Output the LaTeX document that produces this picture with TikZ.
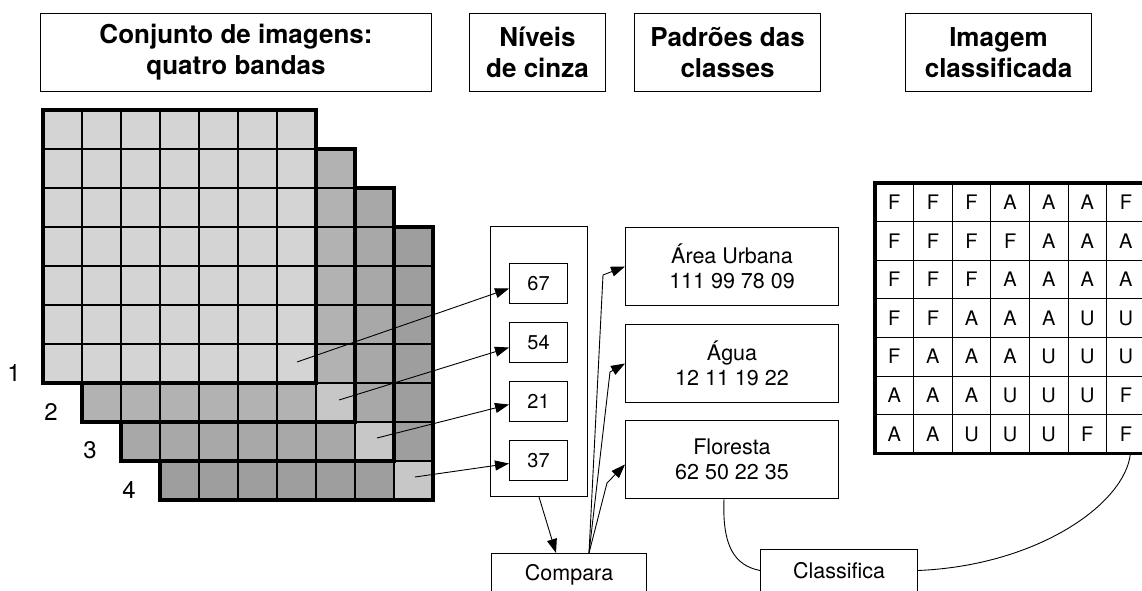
\documentclass[tikz,border=0pt]{standalone}
\usepackage{fontspec}
\setmainfont{TeX Gyre Heros}
\usetikzlibrary{positioning,arrows.meta,calc}
\tikzset{
  cabec/.style={rectangle, draw, line width=1pt, align=center, inner sep=0pt,
    minimum height=78pt, font=\fontsize{26}{31}\selectfont\bfseries},
  caixa/.style={rectangle, draw, line width=1pt, align=center, inner sep=0pt,
    font=\fontsize{21.5}{25}\selectfont},
  valor/.style={rectangle, draw, line width=1pt, inner sep=0pt,
    minimum width=58pt, minimum height=40pt, font=\fontsize{20}{22}\selectfont},
  rotulo/.style={font=\fontsize{24}{26}\selectfont, inner sep=0pt},
  letra/.style={font=\fontsize{20}{22}\selectfont, inner sep=0pt},
  seta/.style={-{Triangle[length=14pt,width=10pt]}, line width=0.9pt},
  liga/.style={line width=0.9pt},
}
\begin{document}
\begin{tikzpicture}[x=1pt, y=-1pt]
  \clip (0,0) rectangle (1142,591);
  % cabecalhos
  \node[cabec, minimum width=391pt, anchor=north west] (hconj) at (40,13) {Conjunto de imagens:\\quatro bandas};
  \node[cabec, minimum width=136pt, right=37pt of hconj] (hniv) {Níveis\\de cinza};
  \node[cabec, minimum width=186pt, right=28pt of hniv] (hpad) {Padrões das\\classes};
  \node[cabec, minimum width=186pt, right=84pt of hpad] (himg) {Imagem\\classificada};

  % as quatro bandas
  \foreach \b/\cor/\lw in {4/black!38/1.6, 3/black!34/1.6, 2/black!30/1.6, 1/black!17/1.1} {
    \pgfmathsetmacro{\o}{(\b-1)*39}
    \begin{scope}[shift={(43+\o,110+\o)}]
      \fill[\cor] (0,0) rectangle (273,273);
      \ifnum\b>1 \fill[black!22] (234,234) rectangle (273,273); \fi
      \foreach \i in {1,...,6} {
        \draw[line width=\lw pt] (\i*39,0) -- (\i*39,273);
        \draw[line width=\lw pt] (0,\i*39) -- (273,\i*39);
      }
      \draw[line width=3.2pt] (0,0) rectangle (273,273);
    \end{scope}
  }
  \node[rotulo] (n1) at (14,373) {1};
  \node[rotulo] (n2) at (51,412) {2};
  \node[rotulo] (n3) at (90,450) {3};
  \node[rotulo] (n4) at (129,490) {4};
  \coordinate (p1) at (297,362);
  \coordinate (p2) at (339,400);
  \coordinate (p3) at (377,438);
  \coordinate (p4) at (415,477);

  % niveis de cinza
  \node[caixa, minimum width=97pt, minimum height=270pt, anchor=north west] (niveis) at (490,226) {};
  \node[valor, anchor=north west] (v67) at (509,263) {67};
  \node[valor, below=18pt of v67] (v54) {54};
  \node[valor, below=18pt of v54] (v21) {21};
  \node[valor, below=18pt of v21] (v37) {37};
  \draw[seta] (p1) -- ([yshift=-5pt]v67.west);
  \draw[seta] (p2) -- ([yshift=-5pt]v54.west);
  \draw[seta] (p3) -- ([yshift=-3pt]v21.west);
  \draw[seta] (p4) -- ([yshift=-3pt]v37.west);

  % padroes das classes
  \node[caixa, minimum width=213pt, minimum height=78pt, anchor=north west] (area) at (625,227) {Área Urbana\\111 99 78 09};
  \node[caixa, minimum width=213pt, minimum height=78pt, below=18pt of area] (agua) {Água\\12 11 19 22};
  \node[caixa, minimum width=213pt, minimum height=78pt, below=17pt of agua] (floresta) {Floresta\\62 50 22 35};

  % operacoes
  \node[caixa, minimum width=155pt, minimum height=42pt, anchor=north west] (compara) at (491,553) {Compara};
  \node[caixa, minimum width=157pt, minimum height=42pt, anchor=north west] (classifica) at (760,549) {Classifica};
  \draw[seta] (niveis.south) -- ([xshift=-13pt]compara.north);
  \coordinate (c0) at ([xshift=20pt]compara.north);
  \draw[seta] (c0) -- (603,275) -- (area.west);
  \draw[seta] (c0) -- (610,372) -- (agua.west);
  \draw[seta] (c0) -- (607,483) -- ([yshift=-5pt]floresta.west);

  % imagem classificada
  \node[inner sep=0pt, minimum width=270pt, minimum height=270pt, anchor=north west] (grade) at (875,183) {};
  \begin{scope}[shift={(875,183)}]
    \foreach \i in {1,...,6} {
      \draw[line width=1pt] (\i*38.6,0) -- (\i*38.6,270);
      \draw[line width=1pt] (0,\i*38.6) -- (270,\i*38.6);
    }
  \end{scope}
  \draw[line width=3.5pt] (grade.north west) rectangle (grade.south east);
  \foreach \linha [count=\r] in {{F,F,F,A,A,A,F},{F,F,F,F,A,A,A},{F,F,F,A,A,A,A},{F,F,A,A,A,U,U},{F,A,A,A,U,U,U},{A,A,A,U,U,U,F},{A,A,U,U,U,F,F}} {
    \foreach \l [count=\k] in \linha {
      \node[letra] (g\r\k) at (875+\k*38.6-19.3, 183+\r*38.6-19.3) {\l};
    }
  }
  \coordinate (gfim) at ([xshift=-15pt]grade.south east);
  \draw[liga] ([xshift=-8pt]floresta.south) .. controls +(-2,48) and +(-25,-5) .. (classifica.west);
  \draw[liga] (classifica.east) .. controls +(120,-5) and +(-5,50) .. (gfim);
\end{tikzpicture}
\end{document}
